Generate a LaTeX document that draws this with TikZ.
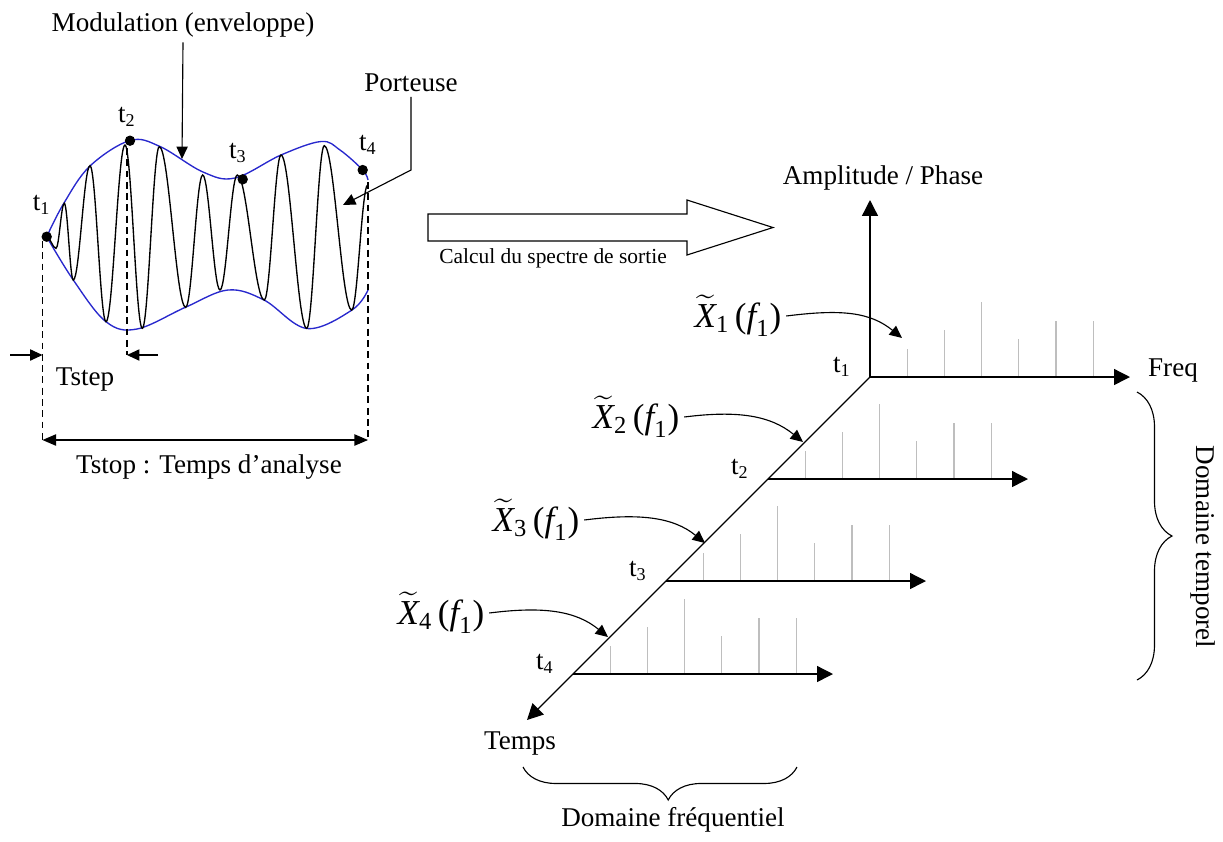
\documentclass[tikz,border=0pt]{standalone}
\usepackage{amsmath}
\usepackage{fontspec}
\setmainfont{Liberation Serif}
\usepackage{tikz}
\usetikzlibrary{arrows.meta,calc,decorations.pathreplacing}
\definecolor{envblue}{RGB}{40,40,205}
\definecolor{specgray}{RGB}{190,190,190}
\tikzset{
  slabel/.style={font=\fontsize{12}{14}\selectfont, inner sep=2pt},
  ssmall/.style={font=\fontsize{9.5}{11}\selectfont, inner sep=1pt},
  smath/.style={font=\fontsize{15.5}{18}\selectfont, inner sep=1pt},
  sarrow/.style={-{Triangle[length=5.5pt,width=5pt]}, line width=0.5pt},
  saxis/.style={-{Triangle[length=7pt,width=7pt]}, line width=0.6pt},
  sdim/.style={{Triangle[length=6pt,width=5pt]}-{Triangle[length=6pt,width=5pt]}, line width=0.5pt},
  sguide/.style={line width=0.5pt, dash pattern=on 3pt off 2pt},
  senv/.style={envblue, line width=0.6pt},
  scarrier/.style={black, line width=0.6pt},
  sspec/.style={specgray, line width=0.6pt},
  sbrace/.style={decorate, decoration={brace, amplitude=#1, aspect=0.5}, line width=0.5pt},
  sbracebot/.style={decorate, decoration={brace, amplitude=#1, aspect=0.47}, line width=0.5pt},
  sbigarrow/.style={draw, line width=0.5pt}
}
\newcommand{\Xtil}[1]{$\widetilde{\textit{X}}_{\textrm{#1}}\,\textrm{(}\textit{f}_{\textrm{1}}\textrm{)}$}

\begin{document}
\begin{tikzpicture}[x=0.443pt,y=-0.443pt]
\useasboundingbox (0,0) rectangle (1223,841);

% signal module
\draw[senv] plot[smooth, tension=0.6] coordinates {(46.7,236.7) (64,203) (90,166) (130,140.5) (160,146.5) (203,172) (235,178) (281,155) (321,141.5) (340,150) (362.7,170) (368,180)};
\draw[senv] plot[smooth, tension=0.6] coordinates {(46.7,236.7) (73.3,280) (106,321.7) (137,329) (186,307) (228,290) (264,300) (307,328.5) (352,310) (368,290)};
\draw[scarrier] (46.7,236.7)
  \foreach \x/\y [remember=\x as \px (initially 46.7), remember=\y as \py (initially 236.7)] in
  {56/248.3, 64.3/203.3, 73.3/280, 90/165.7, 106/321.7, 125/145, 142.3/328.3, 159.3/146.7, 185.7/307.3, 202.7/175, 220/290, 237.3/175, 264.3/300, 281/155, 306.7/328.3, 324.3/145.7, 351.7/310, 367.7/185}
  { .. controls ({\px+0.364*(\x-\px)},\py) and ({\x-0.364*(\x-\px)},\y) .. (\x,\y) };

\coordinate (wd1) at (46.7,236.7);
\coordinate (wd2) at (130,140.7);
\coordinate (wd3) at (242.7,179.3);
\coordinate (wd4) at (362.7,170);
\foreach \n in {1,...,4}
  \fill (wd\n) circle[radius=2.3pt];
\node[slabel] (wt1) at (41.7,205) {t\textsubscript{1}};
\node[slabel] (wt2) at (127,117) {t\textsubscript{2}};
\node[slabel] (wt3) at (238,153) {t\textsubscript{3}};
\node[slabel] (wt4) at (368,145) {t\textsubscript{4}};

\node[slabel] (mod) at (183,25) {Modulation (enveloppe)};
\coordinate (modtip) at (182,159);
\draw[sarrow] (mod.south) -- (modtip);
\node[slabel] (port) at (411,83) {Porteuse};
\coordinate (portbend) at (411,170);
\coordinate (porttip) at (343,205);
\draw[sarrow] (port.south) -- (portbend) -- (porttip);

\coordinate (g1a) at (42.5,241);
\coordinate (g1b) at (42.5,440);
\coordinate (g2a) at (127,148);
\coordinate (g2b) at (127,355);
\coordinate (g3a) at (368,182);
\coordinate (g3b) at (368,440);
\draw[sguide] (g1a) -- (g1b);
\draw[sguide] (g2a) -- (g2b);
\draw[sguide] (g3a) -- (g3b);
\coordinate (tsl) at (10,355);
\coordinate (tsla) at (42.5,355);
\coordinate (tsr) at (158,355);
\draw[sarrow] (tsl) -- (tsla);
\draw[sarrow] (tsr) -- (g2b);
\node[slabel] (tstep) at (85,380) {Tstep};
\draw[sdim] (g1b) -- (g3b);
\node[slabel] (tstop) at (209,467) {Tstop : Temps d’analyse};

% calcul
\draw[sbigarrow] (428,214) -- (687,214) -- (687,200) -- (773,227.5) -- (687,255) -- (687,241) -- (428,241) -- cycle;
\node[ssmall] (calc) at (553,258) {Calcul du spectre de sortie};

% spectre
\coordinate (O) at (870,377);
\coordinate (amptip) at (870,200);
\coordinate (timetip) at (527,720);
\foreach \k/\n in {0/1,102/2,204/3,297/4}{
  \coordinate (r\n) at (870-\k,377+\k);
  \coordinate (e\n) at (1130-\k,377+\k);
  \foreach \h [count=\i] in {28,47,75,38,56,56}
    \draw[sspec] ($(r\n)+(37.2*\i,0)$) -- ++(0,-\h);
  \draw[saxis] (r\n) -- (e\n);
  \node[slabel] (tl\n) at ($(r\n)+(-28,-10)$) {t\textsubscript{\n}};
}
\draw[saxis] (O) -- (amptip);
\draw[saxis] (O) -- (timetip);
\node[slabel] (amp) at (883,178) {Amplitude / Phase};
\node[slabel] (freq) at (1173,371) {Freq};
\node[slabel] (temps) at (520,743) {Temps};

\node[smath, anchor=east] (lx1) at (784,316) {\Xtil{1}};
\node[smath, anchor=east] (lx2) at (682,417) {\Xtil{2}};
\node[smath, anchor=east] (lx3) at (582,520) {\Xtil{3}};
\node[smath, anchor=east] (lx4) at (487,613) {\Xtil{4}};
\coordinate (xt1) at (902,338);
\coordinate (xt2) at (803,442);
\coordinate (xt3) at (705,543);
\coordinate (xt4) at (608,637);
\foreach \n in {1,...,4}
  \draw[sarrow] ([xshift=1pt]lx\n.east) .. controls +(55,-7) and +(-32,-26) .. (xt\n);

\coordinate (bt1) at (1137,392);
\coordinate (bt2) at (1137,680);
\draw[sbrace=15.5pt] (bt1) -- (bt2);
\node[slabel, rotate=-90] (domt) at (1203,547) {Domaine temporel};
\coordinate (bf1) at (797,767);
\coordinate (bf2) at (523,767);
\draw[sbracebot=14.6pt] (bf1) -- (bf2);
\node[slabel] (domf) at (673,820) {Domaine fréquentiel};
\end{tikzpicture}
\end{document}
